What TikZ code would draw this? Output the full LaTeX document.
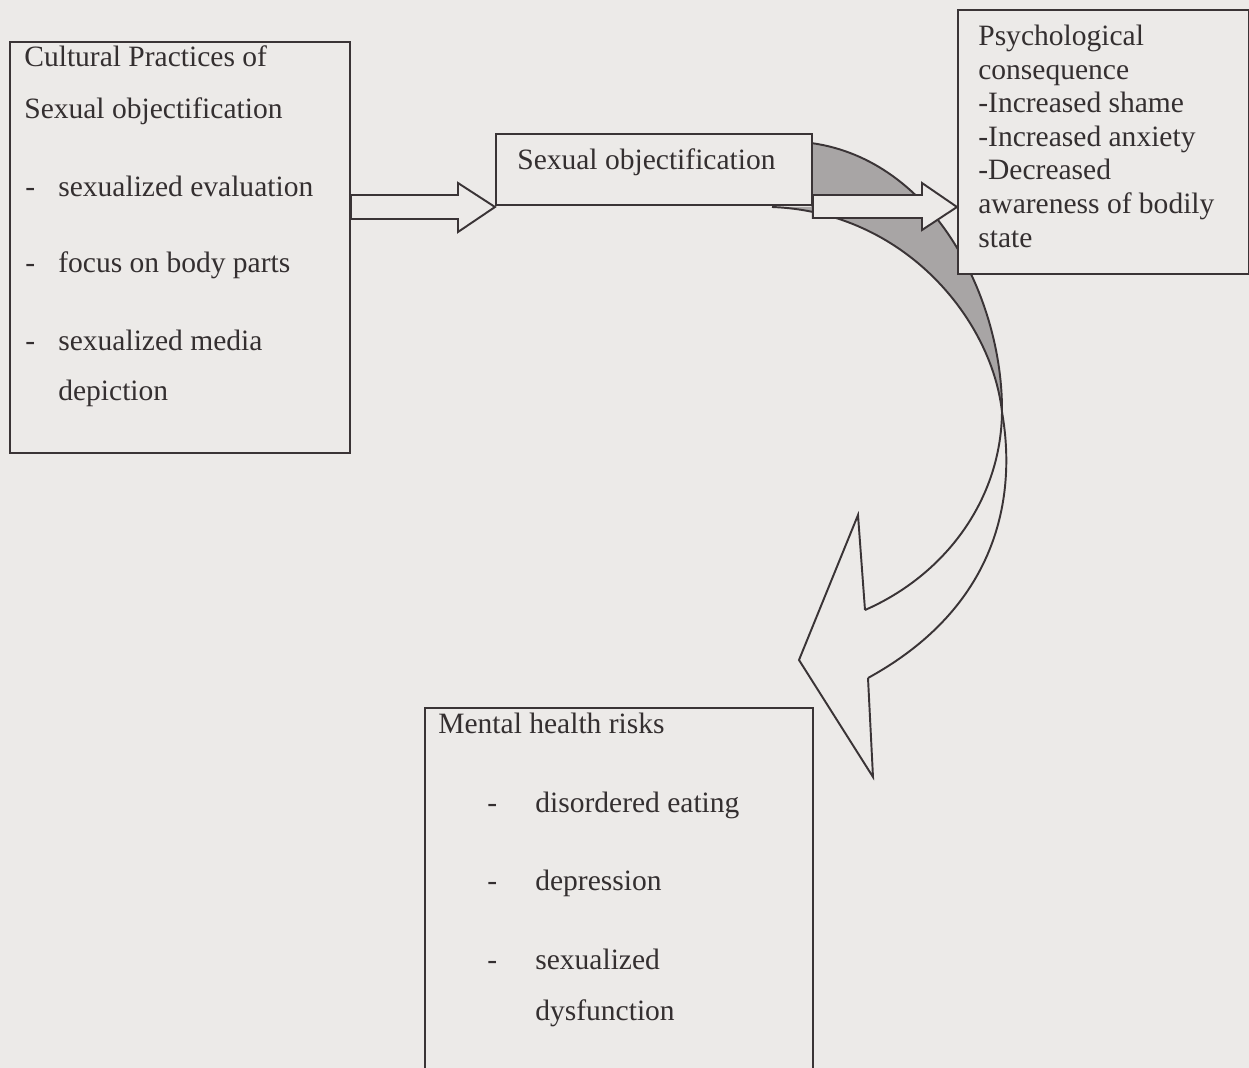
\documentclass[tikz,border=0pt]{standalone}
\usepackage{fontspec}
\setmainfont{Liberation Serif}
\usetikzlibrary{calc}
\definecolor{bgc}{RGB}{236,234,232}
\definecolor{inkc}{RGB}{58,52,54}
\definecolor{txtc}{RGB}{52,47,48}
\definecolor{bandc}{RGB}{168,165,165}
\begin{document}
\begin{tikzpicture}[x=0.02cm,y=-0.02cm,
  boxstyle/.style={draw=inkc,line width=1.1pt,fill=bgc,rectangle,inner sep=0pt,anchor=north west},
  txt/.style={anchor=base west,inner sep=0pt,text=txtc,font=\fontsize{16.8}{20}\selectfont},
  blockarrow/.style={draw=inkc,line width=1.1pt,fill=bgc,line join=miter},
  curveline/.style={draw=inkc,line width=1.1pt}]
\useasboundingbox (0,0) rectangle (1249,1068);
\fill[bgc] (0,0) rectangle (1249,1068);
\clip (0,0) rectangle (1249,1068);

% twisted band of the curved arrow (shaded back part)
\fill[bandc] (811,143) .. controls (935,160) and (1003,300) .. (1002,412)
   .. controls (992,320) and (905,212) .. (772,207) -- (811,207) -- cycle;
\draw[curveline] (811,143) .. controls (935,160) and (1003,300) .. (1002,412)
   .. controls (1001,500) and (945,575) .. (865,610);
\draw[curveline] (772,207) .. controls (905,212) and (992,320) .. (1002,412)
   .. controls (1014,480) and (1010,600) .. (868,678);
% head of the curved arrow
\draw[curveline,line join=miter] (865,610) -- (858,515) -- (799,660) -- (873,777) -- (868,678);

% boxes
\node[boxstyle,minimum width=6.8cm,minimum height=8.22cm] (cult) at (9,41) {};
\node[boxstyle,minimum width=6.32cm,minimum height=1.42cm] (so) at (495,133) {};
\node[boxstyle,minimum width=5.82cm,minimum height=5.28cm] (psy) at (957,9) {};
\node[boxstyle,minimum width=7.76cm,minimum height=9cm] (mh) at (424,707) {};

% block arrows
\coordinate (t1) at (so.west |- 0,207);
\coordinate (t2) at (psy.west |- 0,207);
\draw[blockarrow] (cult.east |- 0,195) -- (458,195) -- (458,183) -- (t1) -- (458,232) -- (458,219) -- (cult.east |- 0,219) -- cycle;
\draw[blockarrow] (so.east |- 0,195) -- (922,195) -- (922,183) -- (t2) -- (922,230) -- (922,218) -- (so.east |- 0,218) -- cycle;

% texts: cultural practices
\node[txt] (c1) at (24,67) {Cultural Practices of};
\node[txt] (c2) at (24,119) {Sexual objectification};
\node[txt] (c3d) at (25,196) {-};
\node[txt] (c3) at (58,196) {sexualized evaluation};
\node[txt] (c4d) at (25,273) {-};
\node[txt] (c4) at (58,273) {focus on body parts};
\node[txt] (c5d) at (25,350) {-};
\node[txt] (c5) at (58,350) {sexualized media};
\node[txt] (c6) at (58,400) {depiction};

% sexual objectification
\node[txt] (s1) at (517,170) {Sexual objectification};

% psychological consequence
\node[txt] (p1) at (978,46) {Psychological};
\node[txt] (p2) at (978,80) {consequence};
\node[txt] (p3) at (978,113) {-Increased shame};
\node[txt] (p4) at (978,147) {-Increased anxiety};
\node[txt] (p5) at (978,180) {-Decreased};
\node[txt] (p6) at (978,214) {awareness of bodily};
\node[txt] (p7) at (978,248) {state};

% mental health risks
\node[txt] (m1) at (438,733) {Mental health risks};
\node[txt] (m2d) at (487,812) {-};
\node[txt] (m2) at (535,812) {disordered eating};
\node[txt] (m3d) at (487,890) {-};
\node[txt] (m3) at (535,890) {depression};
\node[txt] (m4d) at (487,969) {-};
\node[txt] (m4) at (535,969) {sexualized};
\node[txt] (m5) at (535,1020) {dysfunction};
\end{tikzpicture}
\end{document}
